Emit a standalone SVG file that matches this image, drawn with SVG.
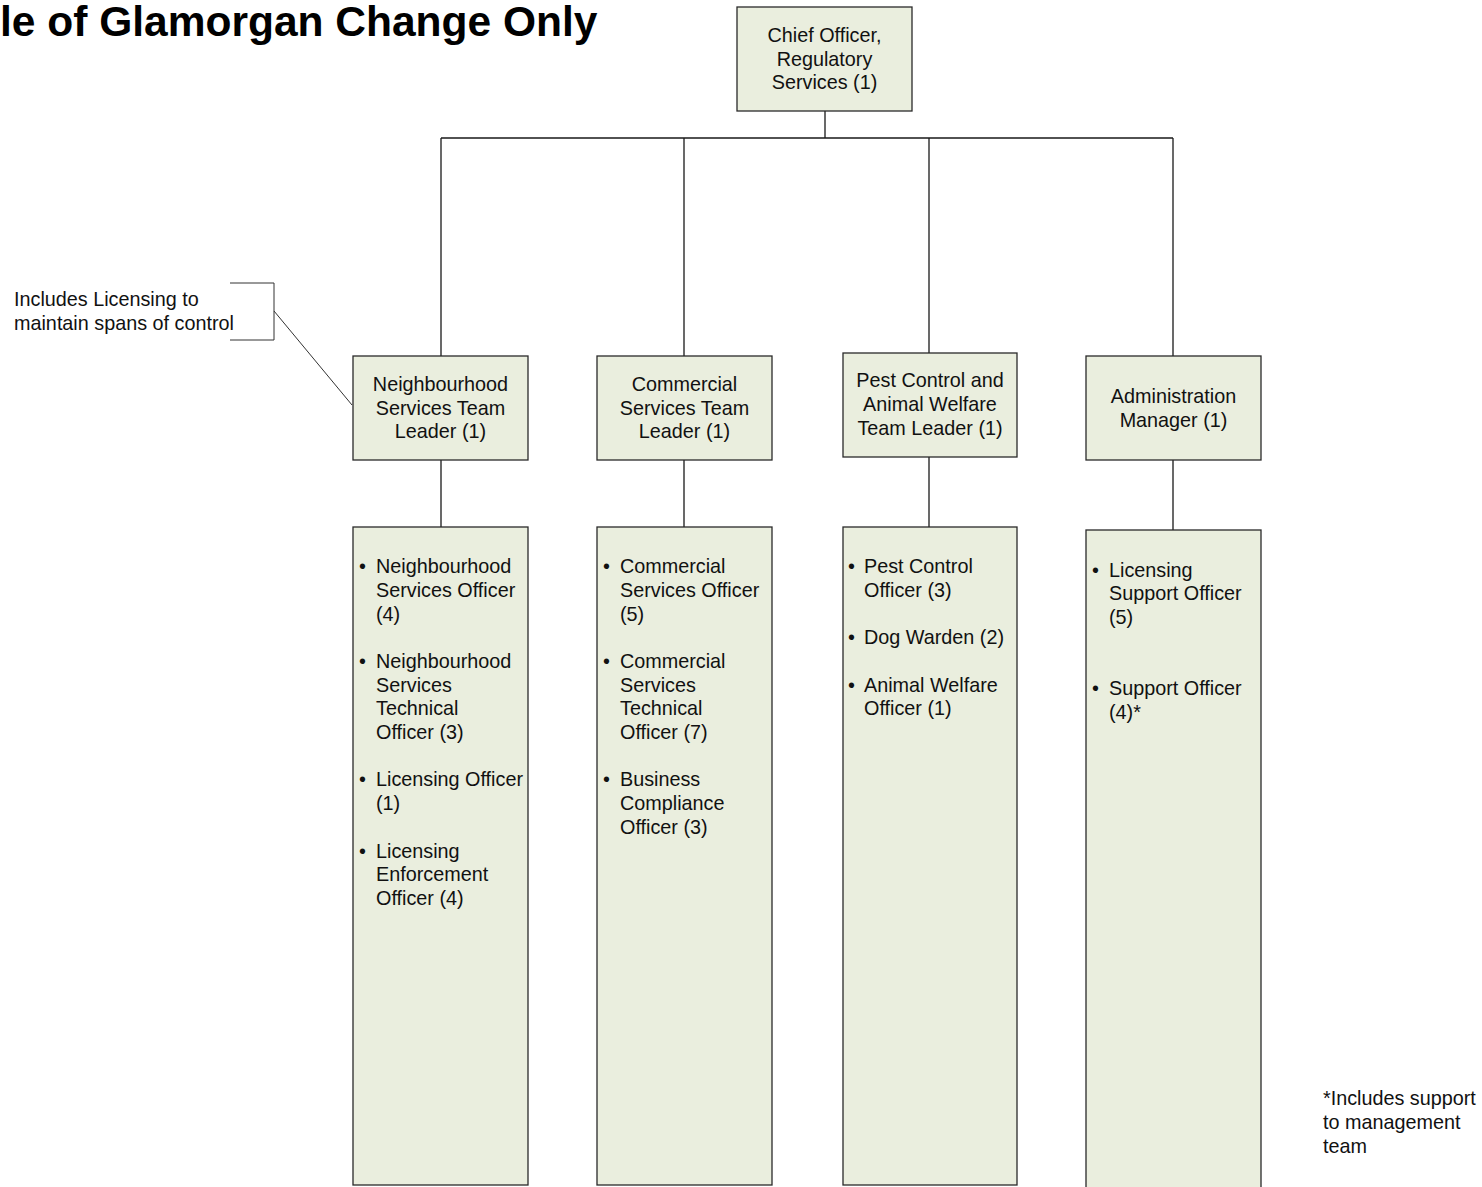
<svg xmlns="http://www.w3.org/2000/svg" width="1482" height="1187" viewBox="0 0 1482 1187">
  <style>
    .box { fill: #EAEEDE; stroke: #2a2a2a; stroke-width: 1.3; }
    .wire { fill: none; stroke: #1a1a1a; stroke-width: 1.3; }
    .note { fill: none; stroke: #333; stroke-width: 1; }
    text { font-family: "Liberation Sans", Arial, sans-serif; font-size: 19.8px; fill: #111; }
    .c { text-anchor: middle; }
    .title { font-size: 42.5px; font-weight: bold; fill: #000; }
  </style>
  <rect width="1482" height="1187" fill="#fff"/>

  <text class="title" x="0" y="36">le of Glamorgan Change Only</text>

  <!-- reporting lines -->
  <g id="connectors">
    <path class="wire" d="M825 111 V138 M441 138 H1173 M441 138 V356 M684 138 V356 M929 138 V353 M1173 138 V356"/>
    <path class="wire" d="M441 460 V527 M684 460 V527 M929 457 V527 M1173 460 V530"/>
    <path class="note" d="M230 283 H274 V340 H230 M274 311 L352 405"/>
  </g>

  <g id="chief">
    <rect class="box" x="737" y="7" width="175" height="104"/>
    <text class="c" x="824.5" y="42">Chief Officer,</text>
    <text class="c" x="824.5" y="65.5">Regulatory</text>
    <text class="c" x="824.5" y="89">Services (1)</text>
  </g>

  <g id="neighbourhood-lead">
    <rect class="box" x="353" y="356" width="175" height="104"/>
    <text class="c" x="440.5" y="391">Neighbourhood</text>
    <text class="c" x="440.5" y="414.5">Services Team</text>
    <text class="c" x="440.5" y="438">Leader (1)</text>
  </g>

  <g id="commercial-lead">
    <rect class="box" x="597" y="356" width="175" height="104"/>
    <text class="c" x="684.5" y="391">Commercial</text>
    <text class="c" x="684.5" y="414.5">Services Team</text>
    <text class="c" x="684.5" y="438">Leader (1)</text>
  </g>

  <g id="pest-lead">
    <rect class="box" x="843" y="353" width="174" height="104"/>
    <text class="c" x="930" y="387">Pest Control and</text>
    <text class="c" x="930" y="411">Animal Welfare</text>
    <text class="c" x="930" y="435">Team Leader (1)</text>
  </g>

  <g id="admin-lead">
    <rect class="box" x="1086" y="356" width="175" height="104"/>
    <text class="c" x="1173.5" y="403">Administration</text>
    <text class="c" x="1173.5" y="427">Manager (1)</text>
  </g>

  <g id="neighbourhood-team">
    <rect class="box" x="353" y="527" width="175" height="658"/>
    <text x="359" y="573">•</text>
    <text x="376" y="573">Neighbourhood</text>
    <text x="376" y="597">Services Officer</text>
    <text x="376" y="621">(4)</text>
    <text x="359" y="668">•</text>
    <text x="376" y="668">Neighbourhood</text>
    <text x="376" y="692">Services</text>
    <text x="376" y="715">Technical</text>
    <text x="376" y="739">Officer (3)</text>
    <text x="359" y="786">•</text>
    <text x="376" y="786">Licensing Officer</text>
    <text x="376" y="810">(1)</text>
    <text x="359" y="858">•</text>
    <text x="376" y="858">Licensing</text>
    <text x="376" y="881">Enforcement</text>
    <text x="376" y="905">Officer (4)</text>
  </g>

  <g id="commercial-team">
    <rect class="box" x="597" y="527" width="175" height="658"/>
    <text x="603" y="573">•</text>
    <text x="620" y="573">Commercial</text>
    <text x="620" y="597">Services Officer</text>
    <text x="620" y="621">(5)</text>
    <text x="603" y="668">•</text>
    <text x="620" y="668">Commercial</text>
    <text x="620" y="692">Services</text>
    <text x="620" y="715">Technical</text>
    <text x="620" y="739">Officer (7)</text>
    <text x="603" y="786">•</text>
    <text x="620" y="786">Business</text>
    <text x="620" y="810">Compliance</text>
    <text x="620" y="834">Officer (3)</text>
  </g>

  <g id="pest-team">
    <rect class="box" x="843" y="527" width="174" height="658"/>
    <text x="848" y="573">•</text>
    <text x="864" y="573">Pest Control</text>
    <text x="864" y="597">Officer (3)</text>
    <text x="848" y="644">•</text>
    <text x="864" y="644">Dog Warden (2)</text>
    <text x="848" y="692">•</text>
    <text x="864" y="692">Animal Welfare</text>
    <text x="864" y="715">Officer (1)</text>
  </g>

  <g id="admin-team">
    <rect class="box" x="1086" y="530" width="175" height="670"/>
    <text x="1092" y="577">•</text>
    <text x="1109" y="577">Licensing</text>
    <text x="1109" y="600">Support Officer</text>
    <text x="1109" y="624">(5)</text>
    <text x="1092" y="695">•</text>
    <text x="1109" y="695">Support Officer</text>
    <text x="1109" y="719">(4)*</text>
  </g>

  <g id="licensing-note">
    <text x="14" y="306">Includes Licensing to</text>
    <text x="14" y="330">maintain spans of control</text>
  </g>

  <g id="support-note">
    <text x="1323" y="1105">*Includes support</text>
    <text x="1323" y="1129">to management</text>
    <text x="1323" y="1153">team</text>
  </g>
</svg>
